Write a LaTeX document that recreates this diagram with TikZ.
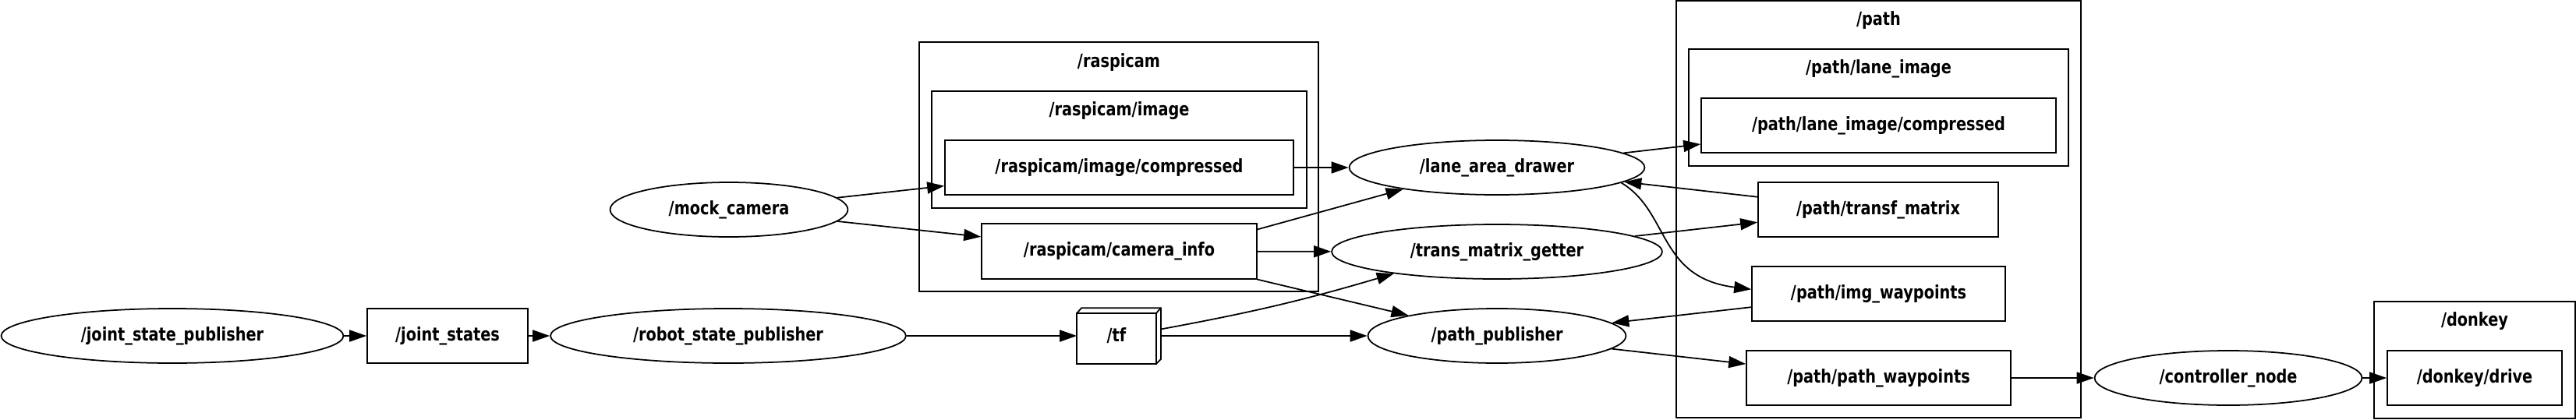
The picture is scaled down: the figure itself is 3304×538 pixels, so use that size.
\documentclass[tikz,border=0pt]{standalone}
\usepackage{fontspec}
\setmainfont{DejaVu Sans}[FakeStretch=0.82]
\usepackage{tikz}
\usetikzlibrary{shapes.geometric, arrows.meta, positioning, calc}
\tikzset{
  basenode/.style={line width=1pt, inner sep=0pt, align=center,
                   font=\fontsize{13.4}{16}\selectfont\bfseries},
  rosnode/.style={basenode, ellipse, draw=black, minimum height=1.40cm},
  topicbox/.style={basenode, rectangle, draw=black, minimum height=1.41cm},
  tfbox/.style={basenode, rectangle, minimum width=2.12cm, minimum height=1.40cm},
  clusterbox/.style={rectangle, draw=black, line width=1pt, inner sep=0pt},
  clusterlabel/.style={basenode},
  edge/.style={-{Triangle[length=0.44cm, width=0.30cm]}, line width=1pt}
}

\begin{document}
\begin{tikzpicture}[x=0.02cm, y=-0.02cm]
  \useasboundingbox (0,0) rectangle (3304,538);

  % namespaces
  \node[clusterbox, minimum width=10.24cm, minimum height=6.40cm] (raspicam) at (1435,214) {};
  \node[clusterlabel] (raspicamlbl) at (1435,80) {/raspicam};
  \node[clusterbox, minimum width=9.62cm, minimum height=3.00cm] (rimage) at (1435.5,192) {};
  \node[clusterlabel] (rimagelbl) at (1435.5,142) {/raspicam/image};
  \node[clusterbox, minimum width=10.38cm, minimum height=10.70cm] (path) at (2409.5,268.5) {};
  \node[clusterlabel] (pathlbl) at (2409.5,26) {/path};
  \node[clusterbox, minimum width=9.74cm, minimum height=3.00cm] (laneimg) at (2409.5,138) {};
  \node[clusterlabel] (laneimglbl) at (2409.5,88) {/path/lane\_image};
  \node[clusterbox, minimum width=5.16cm, minimum height=3.00cm] (donkey) at (3174,462) {};
  \node[clusterlabel] (donkeylbl) at (3174,412) {/donkey};

  % nodes
  \node[rosnode, minimum width=8.78cm] (jsp) at (221,431) {/joint\_state\_publisher};
  \node[topicbox, minimum width=4.12cm] (js) at (574,431) {/joint\_states};
  \node[rosnode, minimum width=9.12cm] (rsp) at (934,431) {/robot\_state\_publisher};
  \node[rosnode, minimum width=6.10cm] (mock) at (935,269) {/mock\_camera};
  \node[topicbox, minimum width=8.94cm] (rcmp) at (1435.5,215) {/raspicam/image/compressed};
  \node[topicbox, minimum width=7.06cm] (cinfo) at (1435.5,322.5) {/raspicam/camera\_info};
  \node[tfbox] (tf) at (1435,431) {\hspace*{-0.12cm}\raisebox{-0.07cm}{/tf}};
  \node[rosnode, minimum width=7.58cm] (lad) at (1920,215) {/lane\_area\_drawer};
  \node[rosnode, minimum width=8.48cm] (tmg) at (1920,323) {/trans\_matrix\_getter};
  \node[rosnode, minimum width=6.62cm] (pp) at (1920,431) {/path\_publisher};
  \node[topicbox, minimum width=9.10cm] (plic) at (2409.5,161) {/path/lane\_image/compressed};
  \node[topicbox, minimum width=6.16cm] (ptm) at (2409,269) {/path/transf\_matrix};
  \node[topicbox, minimum width=6.50cm] (piw) at (2409.5,377) {/path/img\_waypoints};
  \node[topicbox, minimum width=6.78cm] (ppw) at (2409.5,485) {/path/path\_waypoints};
  \node[rosnode, minimum width=6.86cm] (ctrl) at (2858,485) {/controller\_node};
  \node[topicbox, minimum width=4.48cm] (drive) at (3174,485) {/donkey/drive};

  % 3d box for /tf
  \draw[line width=1pt] (tf.south west) rectangle ($(tf.north east)+(-6,7)$);
  \draw[line width=1pt] ($(tf.north west)+(0,7)$) -- ($(tf.north west)+(6,0)$)
    -- (tf.north east) -- ($(tf.south east)+(0,-6)$) -- ($(tf.south east)+(-6,0)$);
  \draw[line width=1pt] ($(tf.north east)+(-6,7)$) -- (tf.north east);

  % edges
  \draw[edge] (jsp) -- (js);
  \draw[edge] (js) -- (rsp);
  \draw[edge] (rsp) -- (tf);
  \draw[edge] (mock) -- (rcmp.186);
  \draw[edge] (mock) -- (cinfo.174);
  \draw[edge] (rcmp) -- (lad);
  \draw[edge] (cinfo) -- (tmg);
  \draw[edge] (cinfo.9) -- (lad.193);
  \draw[edge] (cinfo.south east) -- (pp.167);
  \draw[edge] (tf) -- (pp);
  \draw[edge] (tf.9) to[bend right=3] (tmg.192);
  \draw[edge] (lad) -- (plic.186);
  \draw[edge] (ptm.174) -- (lad);
  \draw[edge] (tmg) -- (ptm.186);
  \draw[edge] (lad.-7) .. controls +(62,37) and +(-120,-15) .. (piw.178);
  \draw[edge] (piw.186) -- (pp);
  \draw[edge] (pp) -- (ppw.174);
  \draw[edge] (ppw) -- (ctrl);
  \draw[edge] (ctrl) -- (drive);
\end{tikzpicture}
\end{document}
